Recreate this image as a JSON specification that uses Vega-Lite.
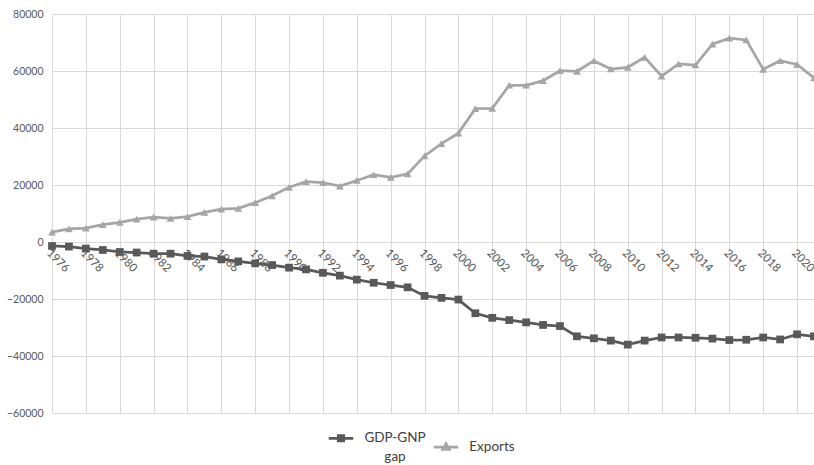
{
  "$schema": "https://vega.github.io/schema/vega-lite/v6.json",
  "width": 762,
  "height": 399,
  "autosize": {"type": "none"},
  "padding": {"left": 52, "top": 14, "right": 0, "bottom": 52},
  "background": "white",
  "config": {
    "view": {"stroke": null},
    "font": "Lato",
    "axis": {"labelFont": "Lato", "labelColor": "#595959", "gridColor": "#d9d9d9", "gridWidth": 1, "domain": false, "ticks": false}
  },
  "data": {
    "values": [
      {"year": 1976, "series": "GDP-GNP gap", "value": -1400},
      {"year": 1977, "series": "GDP-GNP gap", "value": -1600},
      {"year": 1978, "series": "GDP-GNP gap", "value": -2300},
      {"year": 1979, "series": "GDP-GNP gap", "value": -2800},
      {"year": 1980, "series": "GDP-GNP gap", "value": -3500},
      {"year": 1981, "series": "GDP-GNP gap", "value": -3700},
      {"year": 1982, "series": "GDP-GNP gap", "value": -4100},
      {"year": 1983, "series": "GDP-GNP gap", "value": -4100},
      {"year": 1984, "series": "GDP-GNP gap", "value": -4900},
      {"year": 1985, "series": "GDP-GNP gap", "value": -5100},
      {"year": 1986, "series": "GDP-GNP gap", "value": -6100},
      {"year": 1987, "series": "GDP-GNP gap", "value": -6800},
      {"year": 1988, "series": "GDP-GNP gap", "value": -7500},
      {"year": 1989, "series": "GDP-GNP gap", "value": -8100},
      {"year": 1990, "series": "GDP-GNP gap", "value": -9000},
      {"year": 1991, "series": "GDP-GNP gap", "value": -9600},
      {"year": 1992, "series": "GDP-GNP gap", "value": -10800},
      {"year": 1993, "series": "GDP-GNP gap", "value": -11800},
      {"year": 1994, "series": "GDP-GNP gap", "value": -13200},
      {"year": 1995, "series": "GDP-GNP gap", "value": -14300},
      {"year": 1996, "series": "GDP-GNP gap", "value": -15100},
      {"year": 1997, "series": "GDP-GNP gap", "value": -15900},
      {"year": 1998, "series": "GDP-GNP gap", "value": -18900},
      {"year": 1999, "series": "GDP-GNP gap", "value": -19600},
      {"year": 2000, "series": "GDP-GNP gap", "value": -20200},
      {"year": 2001, "series": "GDP-GNP gap", "value": -25000},
      {"year": 2002, "series": "GDP-GNP gap", "value": -26600},
      {"year": 2003, "series": "GDP-GNP gap", "value": -27400},
      {"year": 2004, "series": "GDP-GNP gap", "value": -28200},
      {"year": 2005, "series": "GDP-GNP gap", "value": -29100},
      {"year": 2006, "series": "GDP-GNP gap", "value": -29500},
      {"year": 2007, "series": "GDP-GNP gap", "value": -33100},
      {"year": 2008, "series": "GDP-GNP gap", "value": -33800},
      {"year": 2009, "series": "GDP-GNP gap", "value": -34600},
      {"year": 2010, "series": "GDP-GNP gap", "value": -36000},
      {"year": 2011, "series": "GDP-GNP gap", "value": -34600},
      {"year": 2012, "series": "GDP-GNP gap", "value": -33500},
      {"year": 2013, "series": "GDP-GNP gap", "value": -33500},
      {"year": 2014, "series": "GDP-GNP gap", "value": -33600},
      {"year": 2015, "series": "GDP-GNP gap", "value": -33900},
      {"year": 2016, "series": "GDP-GNP gap", "value": -34400},
      {"year": 2017, "series": "GDP-GNP gap", "value": -34300},
      {"year": 2018, "series": "GDP-GNP gap", "value": -33500},
      {"year": 2019, "series": "GDP-GNP gap", "value": -34200},
      {"year": 2020, "series": "GDP-GNP gap", "value": -32400},
      {"year": 2021, "series": "GDP-GNP gap", "value": -33100},
      {"year": 1976, "series": "Exports", "value": 3500},
      {"year": 1977, "series": "Exports", "value": 4600},
      {"year": 1978, "series": "Exports", "value": 4900},
      {"year": 1979, "series": "Exports", "value": 6100},
      {"year": 1980, "series": "Exports", "value": 6900},
      {"year": 1981, "series": "Exports", "value": 8000},
      {"year": 1982, "series": "Exports", "value": 8700},
      {"year": 1983, "series": "Exports", "value": 8300},
      {"year": 1984, "series": "Exports", "value": 8900},
      {"year": 1985, "series": "Exports", "value": 10400},
      {"year": 1986, "series": "Exports", "value": 11500},
      {"year": 1987, "series": "Exports", "value": 11800},
      {"year": 1988, "series": "Exports", "value": 13800},
      {"year": 1989, "series": "Exports", "value": 16200},
      {"year": 1990, "series": "Exports", "value": 19200},
      {"year": 1991, "series": "Exports", "value": 21200},
      {"year": 1992, "series": "Exports", "value": 20800},
      {"year": 1993, "series": "Exports", "value": 19600},
      {"year": 1994, "series": "Exports", "value": 21600},
      {"year": 1995, "series": "Exports", "value": 23600},
      {"year": 1996, "series": "Exports", "value": 22700},
      {"year": 1997, "series": "Exports", "value": 23900},
      {"year": 1998, "series": "Exports", "value": 30200},
      {"year": 1999, "series": "Exports", "value": 34500},
      {"year": 2000, "series": "Exports", "value": 38200},
      {"year": 2001, "series": "Exports", "value": 46800},
      {"year": 2002, "series": "Exports", "value": 46900},
      {"year": 2003, "series": "Exports", "value": 55000},
      {"year": 2004, "series": "Exports", "value": 55000},
      {"year": 2005, "series": "Exports", "value": 56600},
      {"year": 2006, "series": "Exports", "value": 60100},
      {"year": 2007, "series": "Exports", "value": 59900},
      {"year": 2008, "series": "Exports", "value": 63600},
      {"year": 2009, "series": "Exports", "value": 60700},
      {"year": 2010, "series": "Exports", "value": 61300},
      {"year": 2011, "series": "Exports", "value": 64800},
      {"year": 2012, "series": "Exports", "value": 58200},
      {"year": 2013, "series": "Exports", "value": 62500},
      {"year": 2014, "series": "Exports", "value": 62100},
      {"year": 2015, "series": "Exports", "value": 69400},
      {"year": 2016, "series": "Exports", "value": 71500},
      {"year": 2017, "series": "Exports", "value": 70900},
      {"year": 2018, "series": "Exports", "value": 60600},
      {"year": 2019, "series": "Exports", "value": 63600},
      {"year": 2020, "series": "Exports", "value": 62300},
      {"year": 2021, "series": "Exports", "value": 57600}
    ]
  },
  "encoding": {
    "x": {
      "field": "year", "type": "quantitative",
      "scale": {"domain": [1976, 2021], "nice": false, "zero": false},
      "axis": {
        "title": null,
        "values": [1976,1978,1980,1982,1984,1986,1988,1990,1992,1994,1996,1998,2000,2002,2004,2006,2008,2010,2012,2014,2016,2018,2020],
        "format": "d",
        "offset": -171,
        "labelAngle": 45,
        "labelAlign": "left",
        "labelBaseline": "top",
        "labelFontSize": 11.5,
        "labelPadding": 5,
        "labelOverlap": false,
        "labelBound": false,
        "labelFlush": false
      }
    },
    "y": {
      "field": "value", "type": "quantitative",
      "scale": {"domain": [-60000, 80000], "nice": false},
      "axis": {
        "title": null,
        "values": [-60000,-40000,-20000,0,20000,40000,60000,80000],
        "format": "d",
        "labelFontSize": 10.5,
        "labelPadding": 9
      }
    },
    "color": {
      "field": "series", "type": "nominal",
      "scale": {"domain": ["GDP-GNP gap", "Exports"], "range": ["#595959", "#a6a6a6"]},
      "legend": {
        "title": null,
        "orient": "none",
        "legendX": 275,
        "legendY": 410,
        "direction": "horizontal",
        "symbolSize": 600,
        "symbolStrokeWidth": 2.75,
        "labelFontSize": 13.5,
        "labelColor": "#404040",
        "labelFont": "Lato",
        "labelOffset": 12,
        "columnPadding": 2,
        "labelExpr": "datum.label == 'GDP-GNP gap' ? ['GDP-GNP', 'gap'] : datum.label",
        "encode": {
          "symbols": {
            "enter": {
              "shape": {"signal": "datum.value == 'GDP-GNP gap' ? 'M-1,0H1M-0.22,-0.22H0.22V0.22H-0.22Z' : 'M-1,0H1M0,-0.27L0.27,0.2H-0.27Z'"},
              "strokeWidth": {"value": 2.75}
            },
            "update": {
              "shape": {"signal": "datum.value == 'GDP-GNP gap' ? 'M-1,0H1M-0.22,-0.22H0.22V0.22H-0.22Z' : 'M-1,0H1M0,-0.27L0.27,0.2H-0.27Z'"},
              "fill": {"signal": "datum.value == 'GDP-GNP gap' ? '#595959' : '#a6a6a6'"},
              "stroke": {"signal": "datum.value == 'GDP-GNP gap' ? '#595959' : '#a6a6a6'"},
              "strokeWidth": {"value": 2.75},
              "opacity": {"value": 1}
            }
          },
          "labels": {
            "update": {
              "align": {"value": "center"},
              "dx": {"signal": "datum.value == 'GDP-GNP gap' ? 28 : 20"},
              "lineHeight": {"value": 19}
            }
          }
        }
      }
    }
  },
  "layer": [
    {"mark": {"type": "line", "strokeWidth": 2.75}},
    {
      "transform": [{"filter": "datum.series == 'GDP-GNP gap'"}],
      "mark": {"type": "point", "filled": true, "opacity": 1, "shape": "square", "size": 60}
    },
    {
      "transform": [{"filter": "datum.series == 'Exports'"}],
      "mark": {"type": "point", "filled": true, "opacity": 1, "shape": "triangle-up", "size": 60}
    }
  ]
}
